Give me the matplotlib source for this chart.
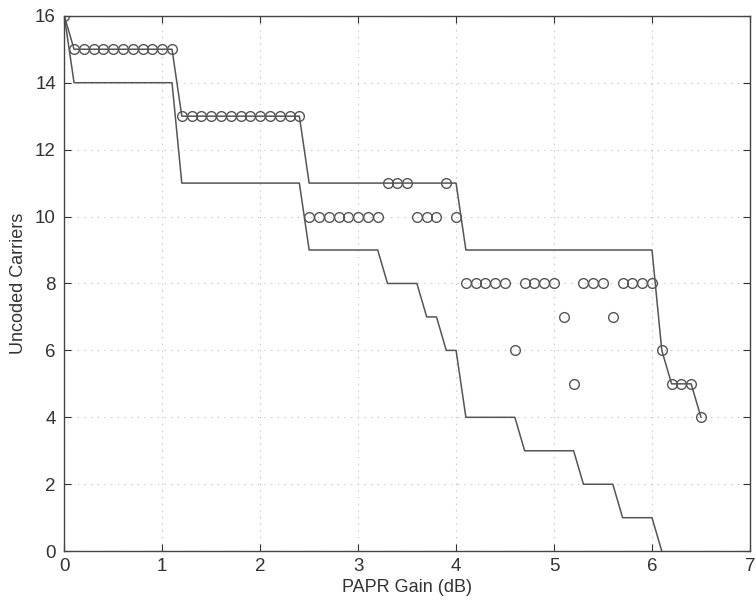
import matplotlib
matplotlib.use("Agg")
import matplotlib.pyplot as plt

plt.rcParams['font.family'] = ['Liberation Sans', 'DejaVu Sans']

# Upper bound staircase
upper_x = [0, 0.1, 1.1, 1.2, 2.4, 2.5, 4.0, 4.1, 6.0, 6.1, 6.2, 6.4, 6.5]
upper_y = [16, 15, 15, 13, 13, 11, 11, 9, 9, 6, 5, 5, 4]

# Lower bound staircase
lower_x = [0, 0.1, 1.1, 1.2, 2.4, 2.5, 3.2, 3.3, 3.6, 3.7, 3.8, 3.9, 4.0, 4.1,
           4.6, 4.7, 5.2, 5.3, 5.6, 5.7, 6.0, 6.1]
lower_y = [16, 14, 14, 11, 11, 9, 9, 8, 8, 7, 7, 6, 6, 4,
           4, 3, 3, 2, 2, 1, 1, 0]

# Simulated points (circles)
pts_x = ([0.0] +
         [0.1, 0.2, 0.3, 0.4, 0.5, 0.6, 0.7, 0.8, 0.9, 1.0, 1.1] +
         [1.2, 1.3, 1.4, 1.5, 1.6, 1.7, 1.8, 1.9, 2.0, 2.1, 2.2, 2.3, 2.4] +
         [2.5, 2.6, 2.7, 2.8, 2.9, 3.0, 3.1, 3.2] +
         [3.3, 3.4, 3.5] +
         [3.6, 3.7, 3.8] +
         [3.9, 4.0] +
         [4.1, 4.2, 4.3, 4.4, 4.5, 4.6, 4.7, 4.8, 4.9, 5.0] +
         [5.1, 5.2, 5.3, 5.4, 5.5, 5.6, 5.7, 5.8, 5.9, 6.0] +
         [6.1, 6.2, 6.3, 6.4, 6.5])
pts_y = ([16] +
         [15] * 11 +
         [13] * 13 +
         [10] * 8 +
         [11] * 3 +
         [10] * 3 +
         [11, 10] +
         [8, 8, 8, 8, 8, 6, 8, 8, 8, 8] +
         [7, 5, 8, 8, 8, 7, 8, 8, 8, 8] +
         [6, 5, 5, 5, 4])

xticks = [0, 1, 2, 3, 4, 5, 6, 7]
yticks = [0, 2, 4, 6, 8, 10, 12, 14, 16]

fig = plt.figure(figsize=(7.56, 6.07), dpi=100)
ax = fig.add_axes([0.085, 0.092, 0.907, 0.882])

line_color = '#555555'
ax.plot(upper_x, upper_y, color=line_color, lw=1.1)
ax.plot(lower_x, lower_y, color=line_color, lw=1.1)
ax.plot(pts_x, pts_y, linestyle='none', marker='o', markersize=7,
        markerfacecolor='none', markeredgecolor='#555555', markeredgewidth=1.0)

ax.set_xlim(0, 7)
ax.set_ylim(0, 16)
ax.set_xticks(xticks)
ax.set_yticks(yticks)
ax.grid(True, linestyle=(0, (1, 5)), color='#bbbbbb', linewidth=0.8)
ax.tick_params(direction='in', length=5, labelsize=13.5, colors='#333333',
               top=True, right=True, labeltop=False, labelright=False)
ax.tick_params(axis='x', pad=5)
ax.tick_params(axis='y', pad=6)
for s in ax.spines.values():
    s.set_color('#444444')
    s.set_linewidth(1.0)

ax.set_xlabel('PAPR Gain (dB)', fontsize=13, color='#333333', labelpad=3)
ax.set_ylabel('Uncoded Carriers', fontsize=13, color='#333333', labelpad=6)

fig.savefig('out.png', dpi=100)
